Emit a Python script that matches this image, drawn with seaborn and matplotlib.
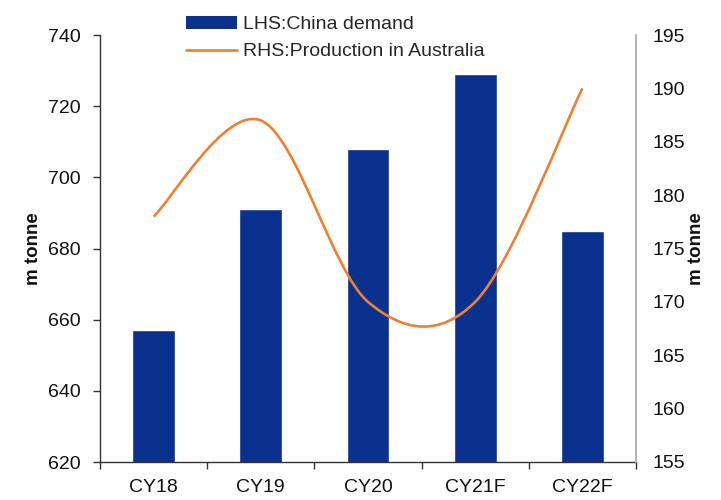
import numpy as np
import pandas as pd
import matplotlib
matplotlib.use("Agg")
import matplotlib.pyplot as plt
import seaborn as sns
from matplotlib.path import Path
from matplotlib.patches import PathPatch, Patch
from matplotlib.lines import Line2D

categories = ["CY18", "CY19", "CY20", "CY21F", "CY22F"]
china_demand = [657, 691, 708, 729, 685]
aus_production = [178, 187, 170, 170, 190]
left_ticks = [620, 640, 660, 680, 700, 720, 740]
right_ticks = [155, 160, 165, 170, 175, 180, 185, 190, 195]

NAVY = "#0B318F"
ORANGE = "#F08030"
FS = 14

sns.set_theme(style="white")
plt.rcParams["font.family"] = ["Liberation Sans", "DejaVu Sans"]

fig = plt.figure(figsize=(7.21, 5), dpi=100)
ax = fig.add_axes([100 / 721, 38 / 500, 536 / 721, 427 / 500])

df = pd.DataFrame({"cat": categories, "demand": china_demand})
sns.barplot(data=df, x="cat", y="demand", color=NAVY, width=0.4,
            saturation=1, ax=ax, zorder=2)
ax.set_xlim(-0.5, len(categories) - 0.5)
ax.set_ylim(620, 740)
ax.set_yticks(left_ticks)
ax.set_yticklabels([str(t) for t in left_ticks])
ax.set_xticks(np.arange(-0.5, len(categories), 1.0))
ax.set_xticklabels([])
ax.set_xticks(range(len(categories)), minor=True)
ax.set_xticklabels(categories, minor=True)
ax.tick_params(axis="x", which="major", length=5, width=1, color="#333333",
               direction="out", bottom=True)
ax.tick_params(axis="x", which="minor", length=0, pad=12, labelsize=FS,
               labelcolor="#111111")
ax.tick_params(axis="y", length=5, width=1, color="#333333", direction="out",
               left=True, pad=9, labelsize=FS, labelcolor="#111111")
for s in ["top", "right"]:
    ax.spines[s].set_visible(False)
for s in ["left", "bottom"]:
    ax.spines[s].set_color("#333333")
    ax.spines[s].set_linewidth(1)
ax.set_xlabel("")
ax.set_ylabel("m tonne", fontsize=13.5, fontweight="bold", color="#111111")
ax.yaxis.set_label_coords(-0.108, 0.5)

ax2 = ax.twinx()
ax2.set_ylim(155, 195)
ax2.set_yticks(right_ticks)
ax2.set_yticklabels([str(t) for t in right_ticks])
ax2.tick_params(axis="y", length=0, pad=12, labelsize=FS, labelcolor="#111111")
for s in ["top", "left", "bottom"]:
    ax2.spines[s].set_visible(False)
ax2.spines["right"].set_color("#A6A6A6")
ax2.spines["right"].set_linewidth(1.2)
ax2.set_ylabel("m tonne", fontsize=13.5, fontweight="bold", color="#111111")
ax2.yaxis.set_label_coords(1.097, 0.5)

# smoothed line (Excel-style Bezier through data points)
xs = np.arange(len(aus_production), dtype=float)
ys = np.array(aus_production, dtype=float)
n = len(xs)
verts = [(xs[0], ys[0])]
codes = [Path.MOVETO]
for i in range(n - 1):
    i0 = max(i - 1, 0)
    i3 = min(i + 2, n - 1)
    c1 = (xs[i] + (xs[i + 1] - xs[i0]) / 6, ys[i] + (ys[i + 1] - ys[i0]) / 6)
    c2 = (xs[i + 1] - (xs[i3] - xs[i]) / 6, ys[i + 1] - (ys[i3] - ys[i]) / 6)
    verts += [c1, c2, (xs[i + 1], ys[i + 1])]
    codes += [Path.CURVE4] * 3
patch = PathPatch(Path(verts, codes), facecolor="none", edgecolor=ORANGE,
                  linewidth=1.9, zorder=3, capstyle="butt")
ax2.add_patch(patch)

handles = [Patch(facecolor=NAVY, edgecolor="none"),
           Line2D([], [], color=ORANGE, lw=1.9)]
fig.legend(handles=handles,
           labels=["LHS:China demand", "RHS:Production in Australia"],
           loc="upper left", bbox_to_anchor=(186 / 721, 1 - 15.5 / 500),
           frameon=False, prop={"size": FS}, handlelength=2.63,
           handletextpad=0.3, labelspacing=0.5, borderpad=0,
           borderaxespad=0)

fig.savefig("out.png", dpi=100)
